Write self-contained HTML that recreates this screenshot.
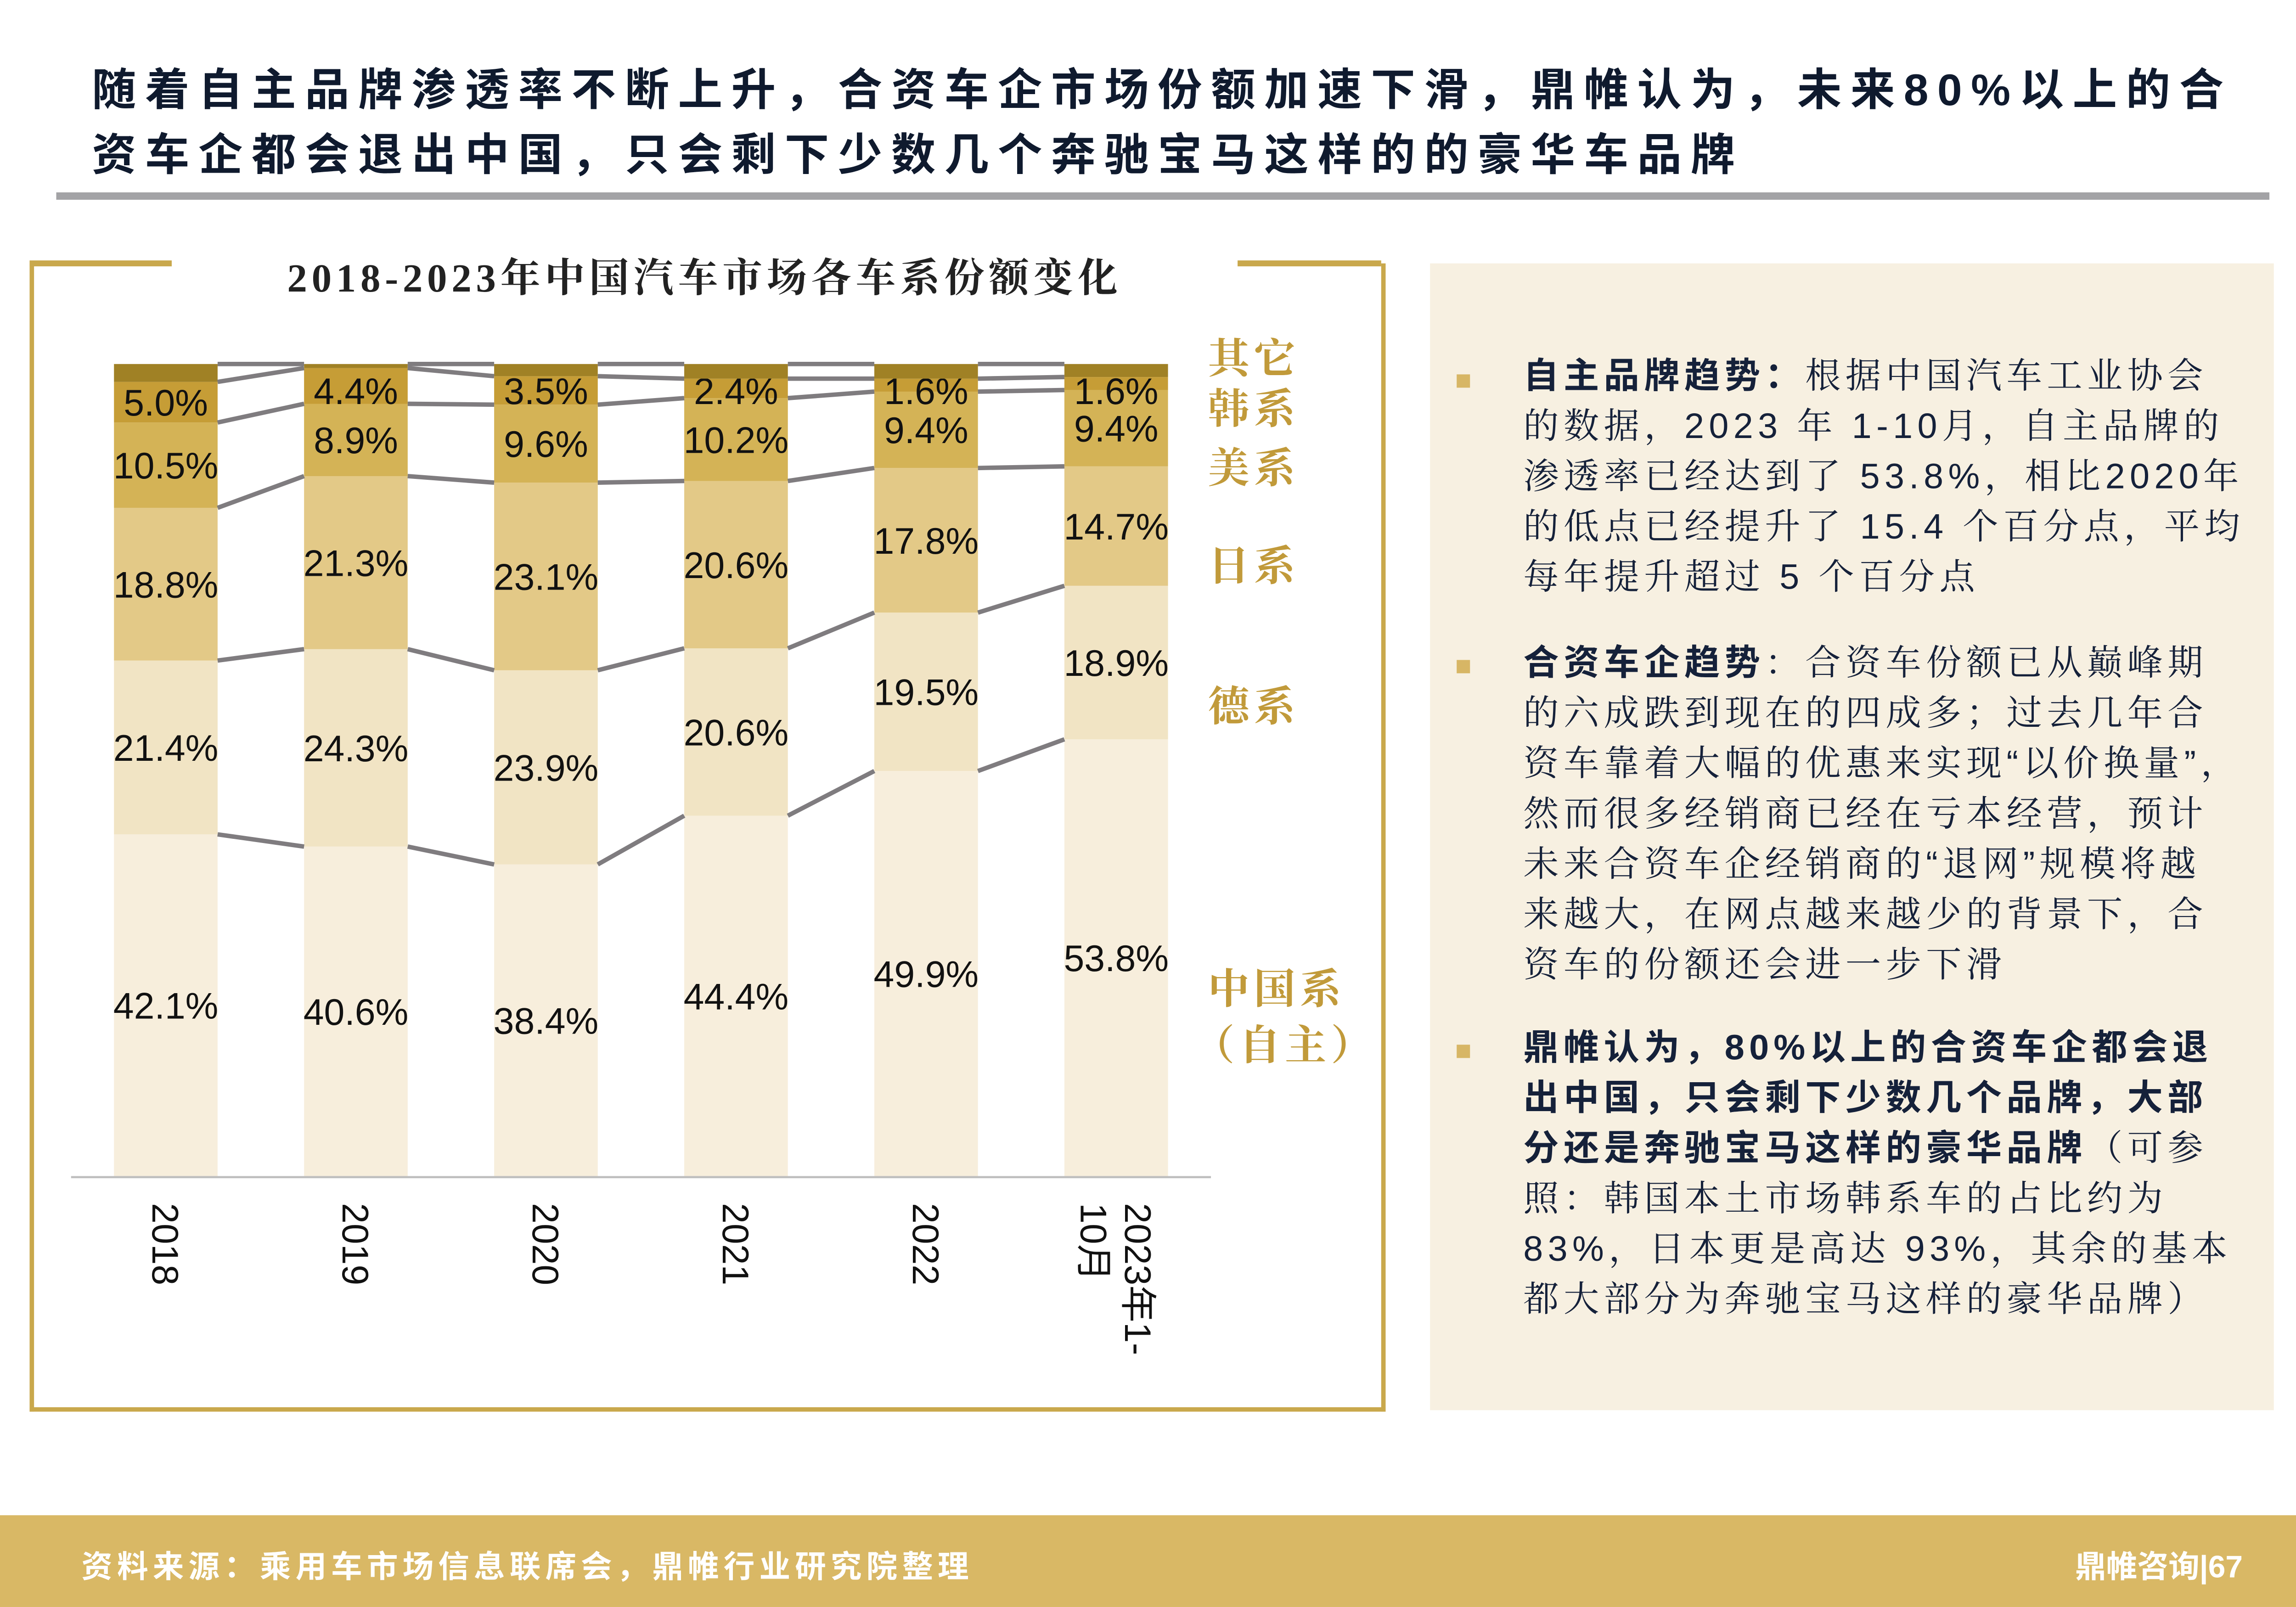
<!DOCTYPE html>
<html><head><meta charset="utf-8">
<style>
html,body{margin:0;padding:0;background:#fff;}
body{width:5055px;height:3500px;overflow:hidden;position:relative;}
#s{position:absolute;left:0;top:0;width:1568px;height:1086px;transform:scale(3.2238,3.2228);transform-origin:0 0;}
.t{position:absolute;font-family:"Liberation Sans","Noto Sans CJK SC",sans-serif;}
#title{left:62px;top:40px;font-size:30px;font-weight:bold;color:#0f1a2e;line-height:44px;letter-spacing:6px;white-space:nowrap;}
#rule{position:absolute;left:38px;top:130px;width:1495px;height:5px;background:#a3a3a6;}
#frame{position:absolute;left:20px;top:178px;width:910px;height:773px;border:3px solid #c9a84c;border-top:none;}
.ftop{position:absolute;top:176px;height:4px;background:#c9a84c;}
#ctitle{left:116px;top:166px;width:720px;text-align:center;font-size:27px;letter-spacing:3px;color:#222;font-family:"Liberation Serif","Noto Serif CJK SC",serif;font-weight:bold;}
#panel{position:absolute;left:966px;top:178px;width:570px;height:775px;background:#f7f0e1;}
.bul{position:absolute;left:984px;width:9px;height:9px;background:#d7b665;}
.ptxt{position:absolute;left:1029px;width:520px;font-size:24px;line-height:34px;letter-spacing:3.2px;color:#15213a;font-family:"Liberation Sans","Noto Serif CJK SC",serif;white-space:nowrap;}
.ptxt b{font-family:"Liberation Sans","Noto Sans CJK SC",sans-serif;}
#footer{position:absolute;left:0;top:1024px;width:1568px;height:62px;background:#d9b865;}
.ft{position:absolute;top:1043px;font-size:21px;color:#fff;font-weight:bold;font-family:"Liberation Sans","Noto Sans CJK SC",sans-serif;white-space:nowrap;}
</style></head><body>
<div id="s">
<div id="title" class="t">随着自主品牌渗透率不断上升，合资车企市场份额加速下滑，鼎帷认为，未来80%以上的合<br>资车企都会退出中国，只会剩下少数几个奔驰宝马这样的的豪华车品牌</div>
<div id="rule"></div>
<div id="frame"></div>
<div class="ftop" style="left:20px;width:96px"></div>
<div class="ftop" style="left:836px;width:97px"></div>
<div id="ctitle" class="t">2018-2023年中国汽车市场各车系份额变化</div>
<svg id="chart" style="position:absolute;left:0;top:0" width="1568" height="1086"></svg>
<div id="panel"></div>
<div class="bul" style="top:253px"></div>
<div class="bul" style="top:446px"></div>
<div class="bul" style="top:706px"></div>
<div class="ptxt" style="top:238px"><b>自主品牌趋势：</b>根据中国汽车工业协会<br>的数据，2023 年 1-10月，自主品牌的<br>渗透率已经达到了 53.8%，相比2020年<br>的低点已经提升了 15.4 个百分点，平均<br>每年提升超过 5 个百分点</div>
<div class="ptxt" style="top:432px"><b>合资车企趋势</b>：合资车份额已从巅峰期<br>的六成跌到现在的四成多；过去几年合<br>资车靠着大幅的优惠来实现“以价换量”，<br>然而很多经销商已经在亏本经营，预计<br>未来合资车企经销商的“退网”规模将越<br>来越大，在网点越来越少的背景下，合<br>资车的份额还会进一步下滑</div>
<div class="ptxt" style="top:692px"><b>鼎帷认为，80%以上的合资车企都会退<br>出中国，只会剩下少数几个品牌，大部<br>分还是奔驰宝马这样的豪华品牌</b>（可参<br>照：韩国本土市场韩系车的占比约为<br>83%，日本更是高达 93%，其余的基本<br>都大部分为奔驰宝马这样的豪华品牌）</div>
<div id="footer"></div>
<div class="ft" style="left:55px;letter-spacing:3.1px">资料来源：乘用车市场信息联席会，鼎帷行业研究院整理</div>
<div class="ft" style="right:53px">鼎帷咨询|67</div>
</div>
<script>
const categories=["2018","2019","2020","2021","2022","2023年1-10月"];
const chinese=[42.1,40.6,38.4,44.4,49.9,53.8];
const german=[21.4,24.3,23.9,20.6,19.5,18.9];
const japanese=[18.8,21.3,23.1,20.6,17.8,14.7];
const american=[10.5,8.9,9.6,10.2,9.4,9.4];
const korean=[5.0,4.4,3.5,2.4,1.6,1.6];
const seriesNames=["中国系","德系","日系","美系","韩系","其它"];
const NS="http://www.w3.org/2000/svg";
const svg=document.getElementById('chart');
const colors=["#f7eedc","#f1e4c4","#e3c987","#d4b356","#c69d36","#a08125"];
const y0=795,y1=246,barW=70,x0=112,step=128.4;
function yS(v){return y0-(v/100)*(y0-y1);}
function xC(i){return x0+i*step;}
function mk(t,a){const e=document.createElementNS(NS,t);for(const k in a)e.setAttribute(k,a[k]);svg.appendChild(e);return e;}
const series=[chinese,german,japanese,american,korean];
const bounds=[];
categories.forEach((c,i)=>{
  let cum=0;const b=[];
  const vals=series.map(s=>s[i]);
  const other=Math.max(0,100-vals.reduce((a,b)=>a+b,0));
  vals.push(other);
  vals.forEach((v,k)=>{
    const r=mk('rect',{x:xC(i)-barW/2,y:yS(cum+v),width:barW,height:yS(cum)-yS(cum+v),fill:colors[k]});
    
    
    if(k<5){
      let cy=(yS(cum)+yS(cum+v))/2;
      if(k===4) cy=Math.max(cy,264);
      const t=mk('text',{x:xC(i),y:cy+9,'text-anchor':'middle','font-size':25,fill:'#111','font-family':'Liberation Sans, sans-serif'});
      t.textContent=v.toFixed(1)+'%';
      
      
    }
    cum+=v;b.push(cum);
  });
  bounds.push(b);
});
for(let i=0;i<categories.length-1;i++){
  for(let k=0;k<6;k++){
    const l=mk('line',{x1:xC(i)+barW/2,y1:yS(bounds[i][k]),x2:xC(i+1)-barW/2,y2:yS(bounds[i+1][k]),stroke:'#7f7c7f','stroke-width':3});
    
    
  }
}
const ax=mk('line',{x1:48,y1:y0+0.5,x2:818,y2:y0+0.5,stroke:'#bfbfbf','stroke-width':1.5});


categories.forEach((c,i)=>{
  const lines=i===5?["2023年1-","10月"]:[c];
  lines.forEach((ln,j)=>{
    const t=mk('text',{x:0,y:0,'font-size':25,fill:'#111','font-family':'Liberation Sans, Noto Sans CJK SC, sans-serif',transform:'translate('+(xC(i)-9-j*30+(i===5?15:0))+',813) rotate(90)'});
    t.textContent=ln;
    
    
  });
});
const legend=[["其它",252],["韩系",286],["美系",326],["日系",392],["德系",487],["中国系",678],["（自主）",716]];
legend.forEach(([n,y])=>{
  const t=mk('text',{x:n==="（自主）"?806:816,y:y,'font-size':28,fill:'#c19a3a','font-weight':'bold','letter-spacing':3,'font-family':'Noto Serif CJK SC, serif'});
  t.textContent=n;
  
  
});
</script>
</body></html>
